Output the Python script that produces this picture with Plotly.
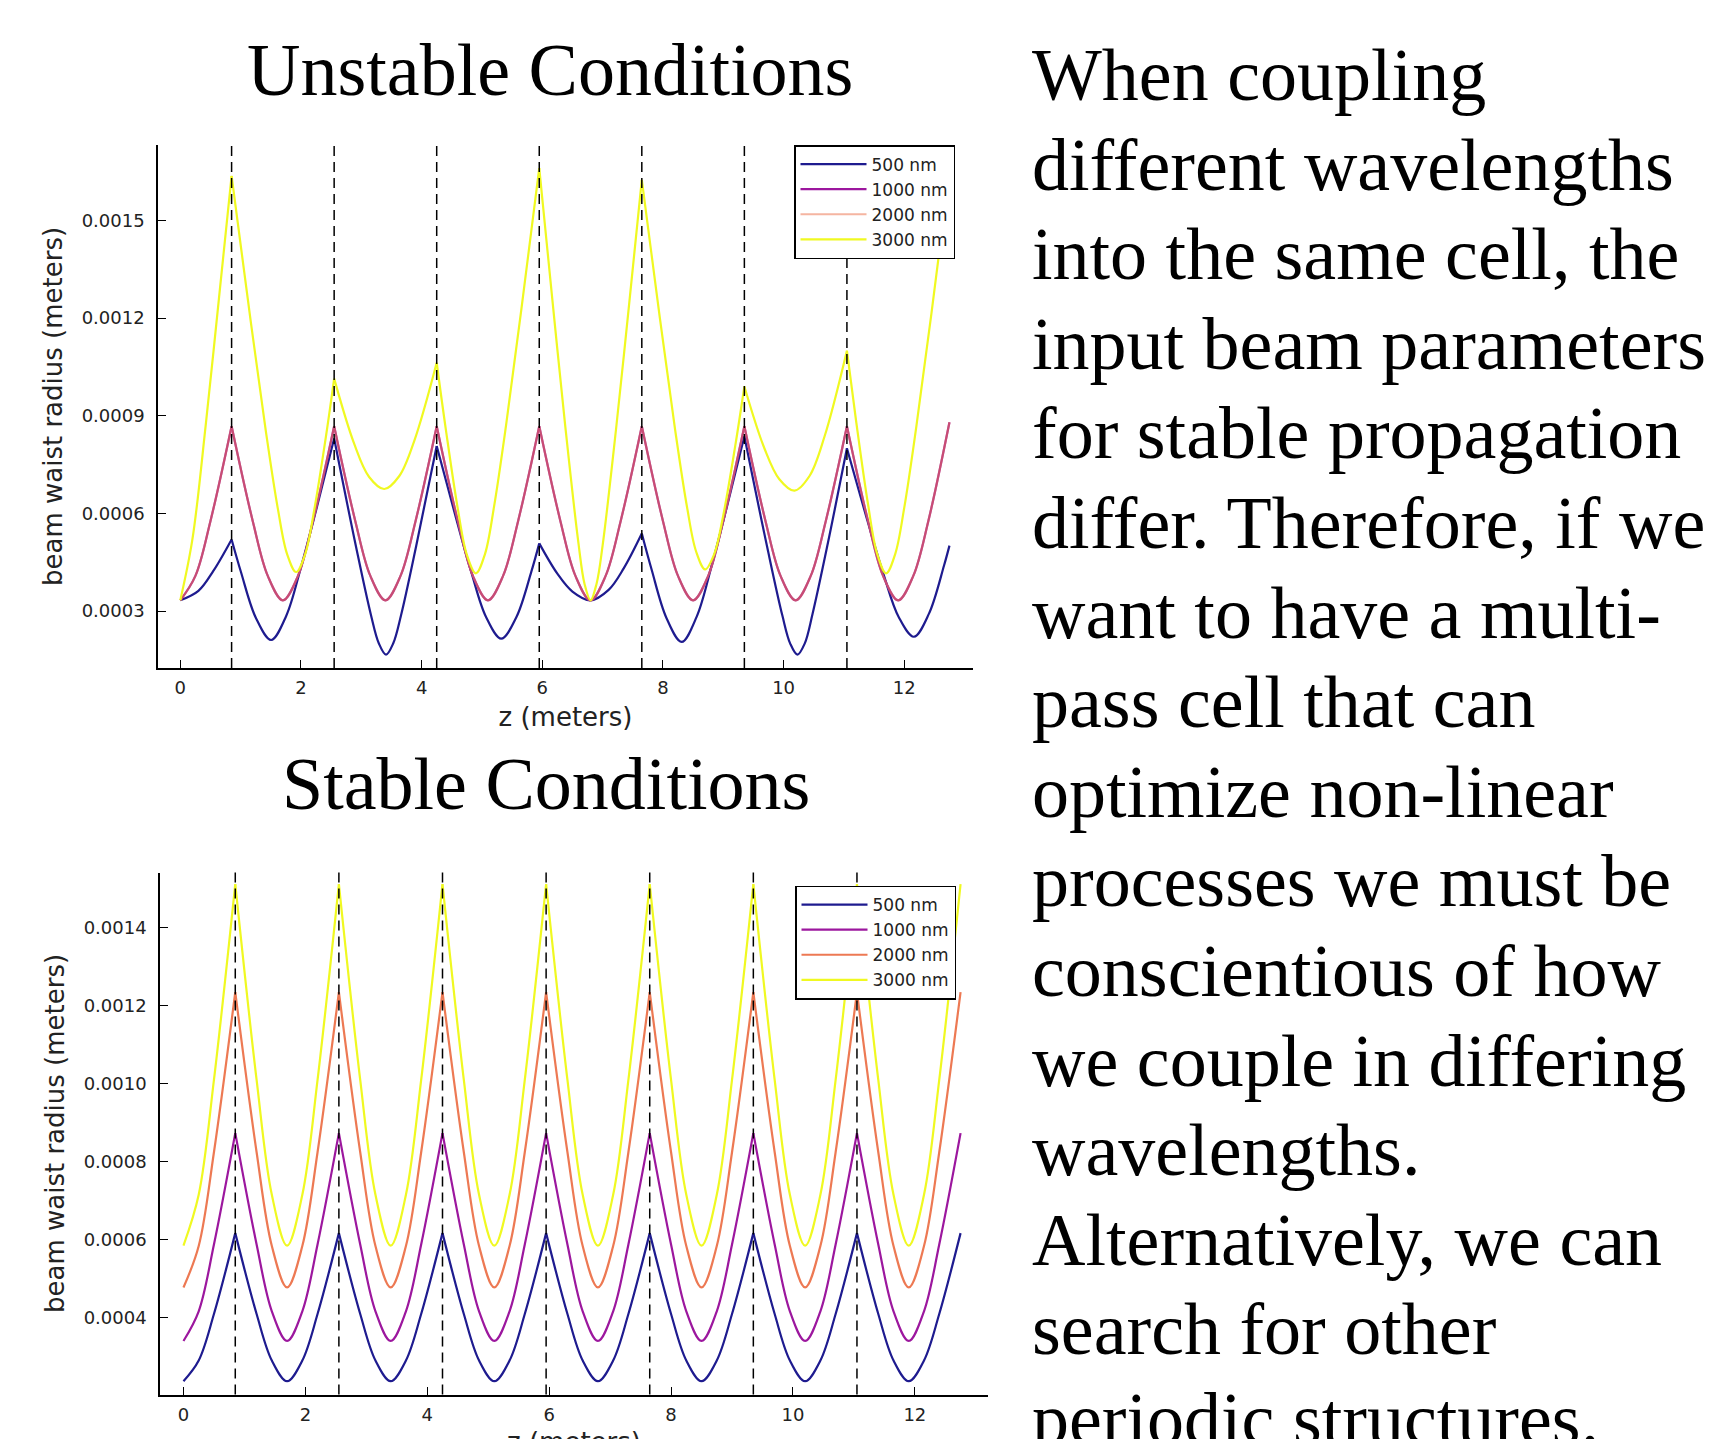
import plotly.graph_objects as go

W, H = 1710, 1439

# ---------------- data ----------------
lens_z = [0.85, 2.55, 4.25, 5.95, 7.65, 9.35, 11.05]
legend_names = ["500 nm", "1000 nm", "2000 nm", "3000 nm"]
line_colors = ["#1e1b8f", "#9c179e", "#ed7953", "#f0f921"]

# shared node grid for periodic curves (None = break at a cusp)
z_periodic = [0, 0.25, 0.5, 0.85, None,
              0.85, 1.2, 1.45, 1.7, 1.95, 2.2, 2.55, None,
              2.55, 2.9, 3.15, 3.4, 3.65, 3.9, 4.25, None,
              4.25, 4.6, 4.85, 5.1, 5.35, 5.6, 5.95, None,
              5.95, 6.3, 6.55, 6.8, 7.05, 7.3, 7.65, None,
              7.65, 8.0, 8.25, 8.5, 8.75, 9.0, 9.35, None,
              9.35, 9.7, 9.95, 10.2, 10.45, 10.7, 11.05, None,
              11.05, 11.4, 11.65, 11.9, 12.15, 12.4, 12.75]

# ---- unstable conditions (values in mm) ----
z_u500 = [0, 0.3, 0.55, 0.85, None,
          0.85, 1.005, 1.255, 1.505, 1.755, 2.005, 2.255, 2.55, None,
          2.55, 2.91, 3.16, 3.29, 3.41, 3.53, 3.66, 3.91, 4.25, None,
          4.25, 4.57, 4.82, 5.07, 5.32, 5.57, 5.82, 5.95, None,
          5.95, 6.25, 6.5, 6.8, 7.1, 7.35, 7.65, None,
          7.65, 7.81, 8.06, 8.31, 8.56, 8.81, 9.06, 9.35, None,
          9.35, 9.73, 9.98, 10.11, 10.23, 10.35, 10.48, 10.73, 11.05, None,
          11.05, 11.41, 11.66, 11.91, 12.16, 12.41, 12.66, 12.75]
w_u500 = [0.333, 0.362, 0.424, 0.52, None,
          0.52, 0.42, 0.278, 0.211, 0.285, 0.438, 0.613, 0.83, None,
          0.83, 0.50, 0.288, 0.201, 0.166, 0.201, 0.288, 0.50, 0.807, None,
          0.807, 0.586, 0.422, 0.281, 0.215, 0.281, 0.422, 0.508, None,
          0.508, 0.415, 0.360, 0.333, 0.365, 0.431, 0.538, None,
          0.538, 0.429, 0.278, 0.205, 0.283, 0.441, 0.620, 0.837, None,
          0.837, 0.495, 0.286, 0.200, 0.166, 0.200, 0.291, 0.505, 0.80, None,
          0.80, 0.565, 0.411, 0.281, 0.221, 0.292, 0.44, 0.501]

w_u1000 = [0.333, 0.408, 0.577, 0.868, None,
           0.868, 0.577, 0.408, 0.333, 0.408, 0.577, 0.868, None,
           0.868, 0.577, 0.408, 0.333, 0.408, 0.577, 0.868, None,
           0.868, 0.577, 0.408, 0.333, 0.408, 0.577, 0.868, None,
           0.868, 0.577, 0.408, 0.333, 0.408, 0.577, 0.868, None,
           0.868, 0.577, 0.408, 0.333, 0.408, 0.577, 0.868, None,
           0.868, 0.577, 0.408, 0.333, 0.408, 0.577, 0.868, None,
           0.868, 0.577, 0.408, 0.333, 0.408, 0.577, 0.88]
w_u2000 = list(w_u1000)  # drawn exactly on top of the 1000 nm curve in the reference

z_u3000 = [0, 0.2, 0.42, 0.64, 0.85, None,
           0.85, 1.17, 1.42, 1.62, 1.77, 1.92, 2.07, 2.22, 2.42, 2.55, None,
           2.55, 2.88, 3.13, 3.38, 3.63, 3.88, 4.25, None,
           4.25, 4.4, 4.6, 4.75, 4.9, 5.05, 5.2, 5.4, 5.65, 5.95, None,
           5.95, 6.16, 6.38, 6.6, 6.7, 6.8, 6.9, 7.0, 7.22, 7.44, 7.65, None,
           7.65, 7.95, 8.2, 8.4, 8.55, 8.7, 8.85, 9.0, 9.2, 9.35, None,
           9.35, 9.68, 9.93, 10.18, 10.43, 10.68, 11.05, None,
           11.05, 11.2, 11.4, 11.55, 11.7, 11.85, 12.0, 12.2, 12.45, 12.75]
w_u3000 = [0.333, 0.52, 0.87, 1.26, 1.637, None,
           1.637, 1.186, 0.85, 0.611, 0.475, 0.42, 0.475, 0.611, 0.844, 1.014, None,
           1.014, 0.815, 0.712, 0.675, 0.715, 0.824, 1.063, None,
           1.063, 0.86, 0.614, 0.473, 0.416, 0.475, 0.62, 0.871, 1.222, 1.661, None,
           1.661, 1.27, 0.870, 0.508, 0.384, 0.333, 0.384, 0.501, 0.854, 1.243, 1.625, None,
           1.625, 1.199, 0.86, 0.619, 0.483, 0.428, 0.475, 0.594, 0.809, 0.99, None,
           0.99, 0.801, 0.705, 0.67, 0.715, 0.837, 1.10, None,
           1.10, 0.887, 0.628, 0.477, 0.416, 0.475, 0.617, 0.866, 1.213, 1.65]

# ---- stable conditions (values in mm) ----
w_s500 = [0.238, 0.291, 0.410, 0.617, None,
          0.617, 0.410, 0.291, 0.238, 0.291, 0.410, 0.617, None,
          0.617, 0.410, 0.291, 0.238, 0.291, 0.410, 0.617, None,
          0.617, 0.410, 0.291, 0.238, 0.291, 0.410, 0.617, None,
          0.617, 0.410, 0.291, 0.238, 0.291, 0.410, 0.617, None,
          0.617, 0.410, 0.291, 0.238, 0.291, 0.410, 0.617, None,
          0.617, 0.410, 0.291, 0.238, 0.291, 0.410, 0.617, None,
          0.617, 0.410, 0.291, 0.238, 0.291, 0.410, 0.617]
w_s1000 = [0.341, 0.417, 0.588, 0.873, None,
           0.873, 0.588, 0.417, 0.341, 0.417, 0.588, 0.873, None,
           0.873, 0.588, 0.417, 0.341, 0.417, 0.588, 0.873, None,
           0.873, 0.588, 0.417, 0.341, 0.417, 0.588, 0.873, None,
           0.873, 0.588, 0.417, 0.341, 0.417, 0.588, 0.873, None,
           0.873, 0.588, 0.417, 0.341, 0.417, 0.588, 0.873, None,
           0.873, 0.588, 0.417, 0.341, 0.417, 0.588, 0.873, None,
           0.873, 0.588, 0.417, 0.341, 0.417, 0.588, 0.873]
w_s2000 = [0.478, 0.584, 0.824, 1.234, None,
           1.234, 0.824, 0.584, 0.478, 0.584, 0.824, 1.234, None,
           1.234, 0.824, 0.584, 0.478, 0.584, 0.824, 1.234, None,
           1.234, 0.824, 0.584, 0.478, 0.584, 0.824, 1.234, None,
           1.234, 0.824, 0.584, 0.478, 0.584, 0.824, 1.234, None,
           1.234, 0.824, 0.584, 0.478, 0.584, 0.824, 1.234, None,
           1.234, 0.824, 0.584, 0.478, 0.584, 0.824, 1.234, None,
           1.234, 0.824, 0.584, 0.478, 0.584, 0.824, 1.234]
w_s3000 = [0.585, 0.715, 1.009, 1.510, None,
           1.510, 1.009, 0.715, 0.585, 0.715, 1.009, 1.510, None,
           1.510, 1.009, 0.715, 0.585, 0.715, 1.009, 1.510, None,
           1.510, 1.009, 0.715, 0.585, 0.715, 1.009, 1.510, None,
           1.510, 1.009, 0.715, 0.585, 0.715, 1.009, 1.510, None,
           1.510, 1.009, 0.715, 0.585, 0.715, 1.009, 1.510, None,
           1.510, 1.009, 0.715, 0.585, 0.715, 1.009, 1.510, None,
           1.510, 1.009, 0.715, 0.585, 0.715, 1.009, 1.510]

x_ticks = [0, 2, 4, 6, 8, 10, 12]
y_ticks_unstable = [0.0003, 0.0006, 0.0009, 0.0012, 0.0015]
y_ticks_stable = [0.0004, 0.0006, 0.0008, 0.0010, 0.0012, 0.0014]

x_title = "z (meters)"
y_title = "beam waist radius (meters)"
titles = ["Unstable Conditions", "Stable Conditions"]
body_lines = [
    "When coupling",
    "different wavelengths",
    "into the same cell, the",
    "input beam parameters",
    "for stable propagation",
    "differ. Therefore, if we",
    "want to have a multi-",
    "pass cell that can",
    "optimize non-linear",
    "processes we must be",
    "conscientious of how",
    "we couple in differing",
    "wavelengths.",
    "Alternatively, we can",
    "search for other",
    "periodic structures.",
]


def to_m(vals):
    return [None if v is None else v * 1e-3 for v in vals]


# ---------------- figure ----------------
fig = go.Figure()

top = [(z_u500, w_u500, 1.0), (z_periodic, w_u1000, 1.0),
       (z_periodic, w_u2000, 0.55), (z_u3000, w_u3000, 1.0)]
for name, col, (zs, ws, op) in zip(legend_names, line_colors, top):
    fig.add_trace(go.Scatter(
        x=zs, y=to_m(ws), mode="lines", name=name, opacity=op,
        line=dict(color=col, width=2.2, shape="spline", smoothing=1.0),
        connectgaps=False, xaxis="x", yaxis="y", legend="legend",
        hoverinfo="skip"))

bottom = [w_s500, w_s1000, w_s2000, w_s3000]
for name, col, ws in zip(legend_names, line_colors, bottom):
    fig.add_trace(go.Scatter(
        x=z_periodic, y=to_m(ws), mode="lines", name=name,
        line=dict(color=col, width=2.2, shape="spline", smoothing=1.0),
        connectgaps=False, xaxis="x2", yaxis="y2", legend="legend2",
        hoverinfo="skip"))


def px_x(p):
    return p / W


def px_y(p):
    return 1 - p / H


tick_font = dict(family="DejaVu Sans", size=18, color="#222")
title_font = dict(family="DejaVu Sans", size=26, color="#222")

common_x = dict(ticks="inside", ticklen=8, tickwidth=1.2, tickcolor="black",
                showline=True, linecolor="black", linewidth=1.5,
                showgrid=False, zeroline=False, tickvals=x_ticks,
                tickfont=tick_font, ticklabelstandoff=3, automargin=False)
common_y = dict(ticks="inside", ticklen=8, tickwidth=1.2, tickcolor="black",
                showline=True, linecolor="black", linewidth=1.5,
                showgrid=False, zeroline=False, tickformat=".4f",
                tickfont=tick_font, ticklabelstandoff=8, automargin=False,
                title=dict(text=y_title, font=title_font, standoff=12))

legend_style = dict(xanchor="right", yanchor="top",
                    bgcolor="white", bordercolor="black", borderwidth=1.5,
                    font=dict(family="DejaVu Sans", size=17, color="#222"),
                    itemwidth=66, tracegroupgap=0)

TOP_BOTTOM_PX = 668
BOT_BOTTOM_PX = 1394.5

fig.update_layout(
    width=W, height=H,
    margin=dict(l=0, r=0, t=0, b=0, autoexpand=False),
    paper_bgcolor="white", plot_bgcolor="white",
    showlegend=True,
    xaxis=dict(common_x, domain=[px_x(158), px_x(973)], range=[-0.37, 13.14], anchor="y",
               title=dict(text=x_title, font=title_font, standoff=10)),
    yaxis=dict(common_y, domain=[px_y(TOP_BOTTOM_PX), px_y(145)], range=[0.000125, 0.001732],
               tickvals=y_ticks_unstable, anchor="x"),
    xaxis2=dict(common_x, domain=[px_x(160), px_x(988)], range=[-0.385, 13.2], anchor="y2"),
    yaxis2=dict(common_y, domain=[px_y(BOT_BOTTOM_PX), px_y(872.5)], range=[0.000204, 0.00154],
                tickvals=y_ticks_stable, anchor="x2"),
    legend=dict(legend_style, x=px_x(955), y=px_y(145)),
    legend2=dict(legend_style, x=px_x(956), y=px_y(885.5)),
)

# dashed lens positions
shapes = []
for xr, yr in [("x", "y domain"), ("x2", "y2 domain")]:
    for z in lens_z:
        shapes.append(dict(type="line", xref=xr, yref=yr, x0=z, x1=z, y0=0, y1=1,
                           line=dict(color="black", width=1.5, dash="10px,6px"),
                           layer="above"))
fig.update_layout(shapes=shapes)

# titles and body text (Times-like serif)
serif = "Liberation Serif, Times New Roman, serif"
FS = 74
mid_off = 25.0  # baseline -> text-box centre offset for this font size
annotations = [
    dict(text=titles[0], x=px_x(550), y=px_y(95 - mid_off), xref="paper", yref="paper",
         xanchor="center", yanchor="middle", showarrow=False,
         font=dict(family=serif, size=FS, color="black")),
    dict(text=titles[1], x=px_x(546), y=px_y(809 - mid_off), xref="paper", yref="paper",
         xanchor="center", yanchor="middle", showarrow=False,
         font=dict(family=serif, size=FS, color="black")),
    # lower x-axis title: sits at the same offset as the upper one, running off the slide edge
    dict(text=x_title, x=px_x((160 + 988) / 2), y=px_y(BOT_BOTTOM_PX + 47.5),
         xref="paper", yref="paper", xanchor="center", yanchor="middle",
         showarrow=False, font=title_font),
]
for i, line in enumerate(body_lines):
    baseline = 100 + 89.6 * i
    annotations.append(dict(
        text=line, x=px_x(1030), y=px_y(baseline - mid_off), xref="paper", yref="paper",
        xanchor="left", yanchor="middle", showarrow=False,
        font=dict(family=serif, size=FS, color="black")))
fig.update_layout(annotations=annotations)

fig.write_html("out.html")
